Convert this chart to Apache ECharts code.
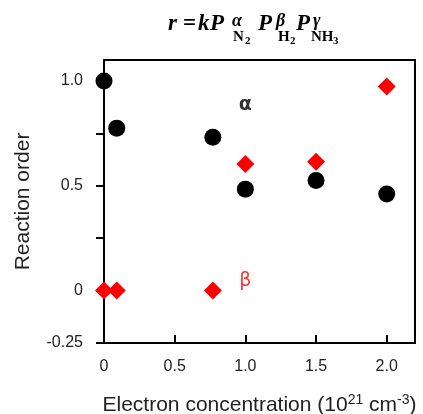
<!DOCTYPE html>
<html>
<head>
<meta charset="utf-8">
<script src="https://cdn.jsdelivr.net/npm/echarts@6/dist/echarts.min.js"></script>
<style>
  html, body { margin: 0; padding: 0; background: #fff; }
  #chart { width: 423px; height: 414px; }
</style>
</head>
<body>
<div id="chart"></div>
<script>
// electron concentration (10^21 cm^-3)
const alphaX = [0, 0.09, 0.77, 1.0, 1.5, 2.0];
const alphaY = [1.0, 0.775, 0.732, 0.484, 0.525, 0.461];
const betaX = [0, 0.09, 0.77, 1.0, 1.5, 2.0];
const betaY = [0, 0, 0, 0.604, 0.615, 0.973];

const xTicks = [0, 0.5, 1.0, 1.5, 2.0];
const xTickLabels = ['0', '0.5', '1.0', '1.5', '2.0'];
const yTicks = [-0.25, 0, 0.25, 0.5, 0.75, 1.0];
const yTickLabels = ['-0.25', '0', '', '0.5', '', '1.0'];

// text annotations placed in data space
const labelNames = ['α', 'β'];
const labelPos = [[1.0, 0.885], [1.0, 0.045]];
const labelColors = ['#000', '#ff0000'];

function lookup(ticks, labels, v) {
    for (let i = 0; i < ticks.length; i++) {
        if (Math.abs(ticks[i] - v) < 1e-6) return labels[i];
    }
    return '';
}

const chart = echarts.init(document.getElementById('chart'));

// title: r = kP^α_N2 P^β_H2 P^γ_NH3, each piece placed by its baseline
const titleParts = [
    {t: 'r', x: 168, b: 34, s: 23, st: 'italic'},
    {t: '=', x: 183, b: 34, s: 23, st: 'normal'},
    {t: 'k', x: 198, b: 34, s: 23, st: 'italic'},
    {t: 'P', x: 210, b: 34, s: 23, st: 'italic'},
    {t: 'P', x: 258, b: 34, s: 23, st: 'italic'},
    {t: 'P', x: 296, b: 34, s: 23, st: 'italic'},
    {t: 'α', x: 232, b: 28, s: 18, st: 'italic'},
    {t: 'β', x: 276, b: 28, s: 18, st: 'italic'},
    {t: 'γ', x: 313, b: 28, s: 18, st: 'italic'},
    {t: 'N', x: 233, b: 44, s: 15, st: 'normal'},
    {t: '2', x: 245, b: 46, s: 11, st: 'normal'},
    {t: 'H', x: 278, b: 44, s: 15, st: 'normal'},
    {t: '2', x: 290, b: 46, s: 11, st: 'normal'},
    {t: 'NH', x: 311, b: 44, s: 15, st: 'normal'},
    {t: '3', x: 333, b: 46, s: 11, st: 'normal'}
];

const option = {
    backgroundColor: '#fff',
    animation: false,
    graphic: titleParts.map(p => ({
        type: 'text',
        left: p.x,
        top: p.b - Math.round(p.s * 0.9),
        style: {
            text: p.t,
            fontFamily: 'Liberation Serif',
            fontSize: p.s,
            fontStyle: p.st,
            fontWeight: 'bold',
            fill: '#000'
        }
    })),
    grid: {
        left: 104,
        right: 8,
        top: 60,
        bottom: 71,
        outerBoundsMode: 'none',
        show: true,
        borderColor: '#000',
        borderWidth: 2
    },
    xAxis: {
        type: 'value',
        min: 0,
        max: 2.2,
        interval: 0.5,
        name: '{a|Electron concentration (10}{s|21}{a| cm}{s|-3}{a|)}',
        nameLocation: 'middle',
        nameGap: 50,
        nameTextStyle: {
            rich: {
                a: {fontFamily: 'Liberation Sans', fontSize: 21, color: '#222', lineHeight: 24},
                s: {fontFamily: 'Liberation Sans', fontSize: 14, color: '#222', lineHeight: 24, verticalAlign: 'top', padding: [0, 0, 8, 0]}
            }
        },
        splitLine: {show: false},
        axisLine: {show: true, onZero: false, lineStyle: {color: '#000', width: 2}},
        axisTick: {show: true, inside: true, length: 8, customValues: xTicks, lineStyle: {color: '#000', width: 2}},
        axisLabel: {
            customValues: xTicks,
            fontFamily: 'Liberation Sans',
            fontSize: 16,
            color: '#222',
            margin: 16,
            formatter: v => lookup(xTicks, xTickLabels, v)
        }
    },
    yAxis: {
        type: 'value',
        min: -0.25,
        max: 1.1,
        interval: 0.25,
        name: 'Reaction order',
        nameLocation: 'middle',
        nameGap: 70,
        nameTextStyle: {fontFamily: 'Liberation Sans', fontSize: 21, color: '#222'},
        splitLine: {show: false},
        axisLine: {show: true, onZero: false, lineStyle: {color: '#000', width: 2}},
        axisTick: {show: true, inside: false, length: 8, customValues: yTicks, lineStyle: {color: '#000', width: 2}},
        axisLabel: {
            customValues: yTicks,
            fontFamily: 'Liberation Sans',
            fontSize: 16,
            color: '#222',
            margin: 21,
            formatter: v => lookup(yTicks, yTickLabels, v)
        }
    },
    series: [
        {
            name: 'alpha',
            type: 'scatter',
            symbol: 'circle',
            symbolSize: 17,
            clip: false,
            itemStyle: {color: '#000', opacity: 1},
            data: alphaX.map((x, i) => [x, alphaY[i]])
        },
        {
            name: 'beta',
            type: 'scatter',
            symbol: 'diamond',
            symbolSize: 18,
            clip: false,
            itemStyle: {color: '#ff0000', opacity: 1},
            data: betaX.map((x, i) => [x, betaY[i]])
        },
        {
            name: 'labels',
            type: 'scatter',
            symbolSize: 0,
            silent: true,
            data: labelPos.map((p, i) => ({
                value: p,
                label: {
                    show: true,
                    position: 'inside',
                    formatter: labelNames[i],
                    fontFamily: 'DejaVu Sans',
                    fontSize: 19,
                    fontWeight: i === 0 ? 'bold' : 'normal',
                    color: labelColors[i]
                }
            }))
        }
    ]
};

chart.setOption(option);
</script>
</body>
</html>
